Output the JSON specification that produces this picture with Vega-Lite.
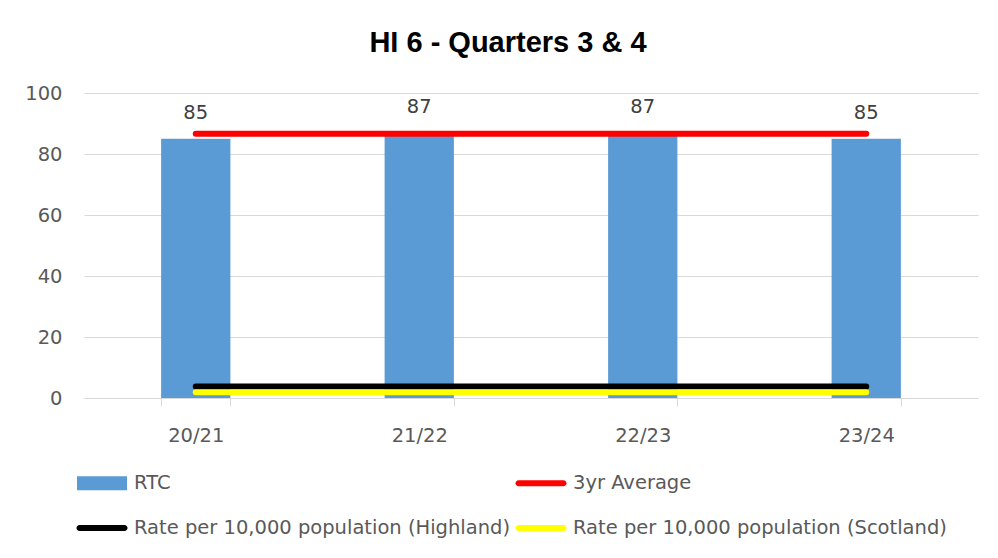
{
  "$schema": "https://vega.github.io/schema/vega-lite/v6.json",
  "width": 894,
  "height": 305,
  "autosize": {"type": "none"},
  "padding": {"left": 84, "top": 93, "right": 20, "bottom": 160},
  "background": "white",
  "title": {
    "text": "HI 6 - Quarters 3 & 4",
    "font": "Liberation Sans",
    "fontWeight": "bold",
    "fontSize": 29,
    "color": "#000000",
    "anchor": "middle",
    "frame": "group",
    "dx": -23,
    "offset": 25
  },
  "config": {
    "view": {"stroke": null},
    "font": "DejaVu Sans",
    "axis": {"labelFont": "DejaVu Sans", "labelFontSize": 19.5, "labelColor": "#595959"},
    "legend": {"labelFont": "DejaVu Sans"}
  },
  "data": {
    "values": [
      {"year": "20/21", "rtc": 85, "avg": 86.6, "highland": 3.8, "scotland": 1.9},
      {"year": "21/22", "rtc": 87, "avg": 86.6, "highland": 3.8, "scotland": 1.9},
      {"year": "22/23", "rtc": 87, "avg": 86.6, "highland": 3.8, "scotland": 1.9},
      {"year": "23/24", "rtc": 85, "avg": 86.6, "highland": 3.8, "scotland": 1.9}
    ]
  },
  "encoding": {
    "x": {
      "field": "year",
      "type": "nominal",
      "title": null,
      "scale": {"paddingInner": 0.69, "paddingOuter": 0.345},
      "axis": {
        "labelAngle": 0,
        "tickBand": "extent",
        "tickColor": "#D9D9D9",
        "domainColor": "#D9D9D9",
        "tickSize": 8,
        "labelPadding": 20,
        "grid": false
      }
    }
  },
  "layer": [
    {
      "mark": {"type": "bar", "color": "#5B9BD5"},
      "encoding": {
        "y": {
          "field": "rtc",
          "type": "quantitative",
          "title": null,
          "scale": {"domain": [0, 100], "nice": false},
          "axis": {
            "values": [0, 20, 40, 60, 80, 100],
            "domain": false,
            "ticks": false,
            "gridColor": "#D9D9D9",
            "labelPadding": 22
          }
        },
        "color": {
          "datum": "RTC",
          "type": "nominal",
          "scale": {
            "domain": ["RTC", "3yr Average", "Rate per 10,000 population (Highland)", "Rate per 10,000 population (Scotland)"],
            "range": ["#5B9BD5", "#FF0000", "#000000", "#FFFF00"]
          },
          "legend": {
            "title": null,
            "orient": "none",
            "legendX": -7,
            "legendY": 365,
            "direction": "horizontal",
            "columns": 2,
            "columnPadding": 4,
            "rowPadding": 10,
            "symbolSize": 2500,
            "labelFontSize": 19.5,
            "labelColor": "#595959",
            "labelOffset": 7,
            "labelLimit": 500,
            "encode": {
              "symbols": {
                "update": {
                  "shape": {"signal": "datum.value === 'RTC' ? 'M-1,-0.28H1V0.28H-1Z' : 'M-0.9,-0.12H0.9A0.12,0.12 0 0 1 0.9,0.12H-0.9A0.12,0.12 0 0 1 -0.9,-0.12Z'"},
                  "fill": {"scale": "color", "field": "value"},
                  "stroke": {"value": "transparent"},
                  "strokeWidth": {"value": 0},
                  "opacity": {"value": 1}
                }
              }
            }
          }
        }
      }
    },
    {
      "mark": {"type": "text", "dy": -26, "fontSize": 19.5, "color": "#404040"},
      "encoding": {
        "y": {"field": "rtc", "type": "quantitative"},
        "text": {"field": "rtc", "type": "quantitative"}
      }
    },
    {
      "mark": {"type": "line", "strokeWidth": 6, "strokeCap": "round"},
      "encoding": {
        "y": {"field": "avg", "type": "quantitative"},
        "color": {"datum": "3yr Average", "type": "nominal"}
      }
    },
    {
      "mark": {"type": "line", "strokeWidth": 6, "strokeCap": "round"},
      "encoding": {
        "y": {"field": "highland", "type": "quantitative"},
        "color": {"datum": "Rate per 10,000 population (Highland)", "type": "nominal"}
      }
    },
    {
      "mark": {"type": "line", "strokeWidth": 6, "strokeCap": "round"},
      "encoding": {
        "y": {"field": "scotland", "type": "quantitative"},
        "color": {"datum": "Rate per 10,000 population (Scotland)", "type": "nominal"}
      }
    }
  ]
}
